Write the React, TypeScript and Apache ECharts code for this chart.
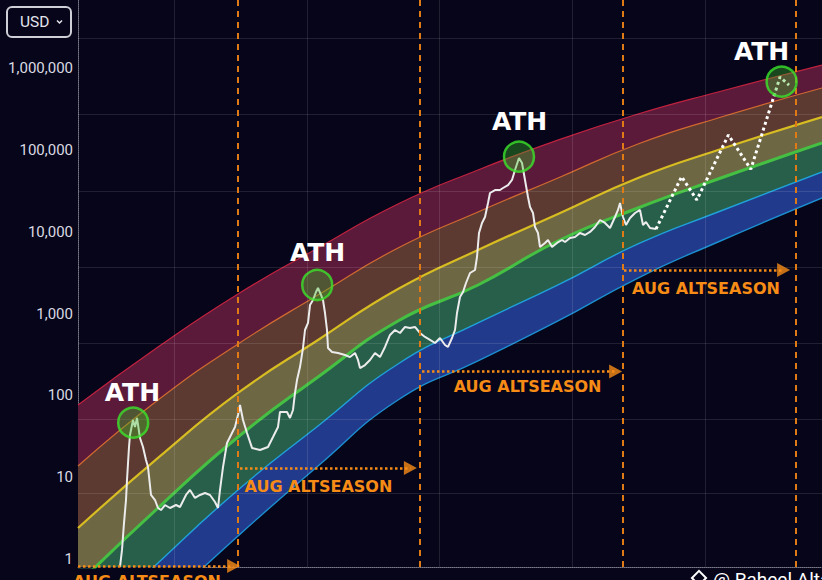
import React, { useEffect, useRef } from 'react';
import * as echarts from 'echarts';

// x is "months since the start of the chart", y is price in USD (log axis)
const bandMonths = [0, 20, 40, 60, 80, 100, 120, 140, 160, 186];
const bandRedTop = [76.3, 391, 1738, 6340, 21880, 57000, 132500, 275500, 512000, 1094000];
const bandOrange = [13.7, 87.9, 425, 1688, 6340, 17470, 45500, 118300, 246000, 573000];
const bandYellow = [2.39, 17.2, 107, 476, 2000, 5990, 16500, 45500, 100000, 253000];
const bandGreen = [0.494, 4.2, 31, 168, 812, 2238, 7720, 19540, 44200, 121900];
const bandCyan = [0.105, 0.894, 6.98, 42.3, 242, 768, 2238, 7100, 17470, 53800];
const bandBlueBottom = [0.0272, 0.238, 1.91, 13.7, 87.9, 264, 812, 2723, 7500, 25900];

const priceHistory: [number, number][] = [
  [10.5, 0.8], [11, 1.29], [11.5, 2.75], [12, 5.26], [12.25, 9.24], [12.75, 23.4], [13, 32.8],
  [13.75, 50], [14.25, 41.1], [14.75, 52.9], [15.5, 30.1], [16.25, 23.4], [17, 16.2], [17.5, 13.3],
  [18.25, 6.06], [19.25, 5.26], [20, 4.2], [20.75, 3.97], [21.75, 4.57], [23, 4.2], [24.5, 4.57],
  [25.5, 4.32], [27, 6.06], [28, 6.98], [29.25, 5.57], [30.5, 6.06], [31.75, 6.41], [33, 6.06],
  [34.25, 4.97], [35, 4.2], [35.5, 6.98], [36.25, 13.3], [37.25, 26.2], [38.25, 32.8], [39.25, 41.1],
  [40, 57.5], [40.5, 76.4], [41.25, 50], [42.25, 34.7], [43.5, 22.8], [45.5, 21.5], [47.5, 23.4],
  [48.75, 31], [50, 41.1], [50.5, 62.7], [52.25, 62.7], [53, 52.9], [53.75, 66.3], [54.25, 107],
  [54.75, 154], [55.5, 222], [56.25, 380], [56.75, 630], [57.5, 768], [58, 1273], [58.75, 1466],
  [59.5, 1837], [60, 2056], [60.75, 1688], [61.25, 1466], [61.75, 1017], [62.25, 630], [62.5, 380],
  [63.5, 339], [65, 330], [66.75, 312], [68, 294], [69.25, 330], [70, 271], [70.5, 216], [71.75, 235],
  [73, 271], [74.25, 330], [75.5, 294], [76.75, 391], [78, 548], [79.25, 630], [80.5, 579],
  [81.75, 686], [83, 667], [84.25, 686], [85.5, 579], [86.75, 518], [88, 476], [89.25, 437],
  [90.5, 503], [91.75, 413], [92.5, 391], [93.5, 503], [94.25, 630], [94.75, 1017], [95.5, 1596],
  [96.25, 1837], [97, 2366], [98, 3135], [99.25, 3412], [99.75, 4920], [100.25, 9660], [101, 12820],
  [101.75, 15170], [102.5, 22500], [103, 29800], [104.25, 32400], [105.5, 32400], [106.25, 34300],
  [107.5, 37300], [108.5, 43000], [109.25, 57000], [110.25, 79800], [111, 69400], [111.75, 43000],
  [112.5, 26600], [113, 20100], [113.75, 16980], [114.25, 11450], [115, 9660], [115.5, 6520],
  [116.75, 7300], [117.5, 7940], [118.5, 6520], [119.75, 7300], [121, 7940], [121.75, 7500],
  [123, 8400], [124.25, 8640], [125.5, 9660], [126.75, 9140], [128, 9950], [129.25, 11450],
  [130.5, 13940], [131.75, 12820], [133, 11130], [134.25, 15170], [135, 18480], [135.5, 22500],
  [136.25, 15170], [137, 12110], [138, 14750], [139.25, 16980], [140.5, 18480], [141.25, 12110],
  [142, 13180], [143, 11130], [144.5, 10800],
];

const projection: [number, number][] = [
  [144.5, 10800], [150.9, 47200], [154.7, 24500], [162.6, 152500], [168.2, 58100], [175.5, 780000], [177.75, 623000],
];

const gridMonths = [24, 57.2, 90.4, 123.6, 156.8];
const gridPriceLevels = [6.4, 51, 437, 3700, 31500, 275000, 2340000];

const altseasonMonths = [39.9, 85.5, 136.1, 179.4];
// [from month, arrow-head month, price level]
const altseasonArrows = [
  [0, 38.9, 0.821],
  [40.5, 83.1, 12.96],
  [86, 134.4, 196],
  [136.5, 176.4, 3412],
];
const altseasonLabels = [[17.25, 0.538], [60.1, 7.59], [112.4, 128.5], [157, 2028]];

const athCircles = [[13.8, 46.4], [59.8, 2238], [110.25, 82800], [175.9, 684000]];
const athLabels = [[13.6, 108], [59.9, 5580], [110.4, 226000], [170.9, 1622000]];

const BG = '#060519';
const ORANGE = '#f68c16';

const App: React.FC = () => {
  const chartRef = useRef<HTMLDivElement>(null);

  useEffect(() => {
    if (!chartRef.current) return;
    const chart = echarts.init(chartRef.current, undefined, { renderer: 'svg' });

    const band = (values: number[], lineColor: string, lineWidth: number, fill: string) => ({
      type: 'line',
      data: bandMonths.map((m, i) => [m, values[i]]),
      smooth: true,
      symbol: 'none',
      silent: true,
      z: 1,
      lineStyle: { color: lineColor, width: lineWidth },
      areaStyle: { color: fill, opacity: 1, origin: 'start' },
    });

    const isPow10 = (v: number) => {
      const l = Math.log10(v);
      return Math.abs(l - Math.round(l)) < 1e-6;
    };

    const option: any = {
      animation: false,
      backgroundColor: BG,
      grid: { left: 78, right: 0, top: 0, bottom: 13, outerBoundsMode: 'none' },
      xAxis: {
        type: 'value',
        min: 0,
        max: 186,
        axisLabel: { show: false },
        axisTick: { show: false },
        splitLine: { show: false },
        axisLine: { show: true, lineStyle: { color: 'rgba(200,200,212,0.6)', type: 'dotted', width: 1 } },
      },
      yAxis: {
        type: 'log',
        logBase: 10,
        min: 0.798,
        max: 6820000,
        axisTick: { show: false },
        splitLine: { show: false },
        axisLine: { show: true, lineStyle: { color: 'rgba(200,200,212,0.6)', type: 'dotted', width: 1 } },
        axisLabel: {
          color: '#dadae2',
          fontSize: 15,
          fontFamily: 'Roboto',
          margin: 5,
          showMinLabel: false,
          showMaxLabel: false,
          formatter: (v: number) => (isPow10(v) ? Math.round(v).toLocaleString('en-US') : ''),
        },
      },
      series: [
        band(bandRedTop, '#c0223f', 1.2, '#5c1a3b'),
        band(bandOrange, '#d26a30', 1.2, '#5c3a31'),
        band(bandYellow, '#d8bd22', 2.2, '#6d6744'),
        band(bandGreen, '#46c043', 3, '#275f4b'),
        band(bandCyan, '#1fa2da', 1.4, '#223a8c'),
        band(bandBlueBottom, '#1c8fd0', 1.4, BG),
        {
          type: 'line',
          data: [],
          silent: true,
          markLine: {
            silent: true,
            z: 2,
            symbol: ['none', 'none'],
            label: { show: false },
            lineStyle: { color: 'rgba(255,255,255,0.11)', width: 1, type: 'solid' },
            data: [
              ...gridMonths.map((m) => ({ xAxis: m })),
              ...gridPriceLevels.map((p) => ({ yAxis: p })),
            ],
          },
        },
        {
          type: 'line',
          data: priceHistory,
          symbol: 'none',
          silent: true,
          z: 3,
          lineStyle: { color: '#ececec', width: 2 },
        },
        {
          type: 'line',
          data: projection,
          symbol: 'none',
          silent: true,
          z: 3,
          lineStyle: { color: '#ffffff', width: 3, type: [3, 3] },
        },
        {
          type: 'line',
          data: [],
          silent: true,
          markLine: {
            silent: true,
            z: 4,
            symbol: ['none', 'none'],
            label: { show: false },
            lineStyle: { color: '#e07a14', width: 2, type: [6, 5] },
            data: altseasonMonths.map((m) => ({ xAxis: m })),
          },
        },
        {
          type: 'line',
          data: [],
          silent: true,
          markLine: {
            silent: true,
            z: 4,
            symbol: ['none', 'none'],
            label: { show: false },
            lineStyle: { color: ORANGE, width: 2.5, type: [2.5, 2.5] },
            data: altseasonArrows.map(([a, b, p]) => [{ coord: [a, p] }, { coord: [b, p] }]),
          },
        },
        {
          // arrow heads
          type: 'scatter',
          data: altseasonArrows.map(([, b, p]) => [b, p]),
          symbol: 'triangle',
          symbolSize: [14, 13],
          symbolRotate: -90,
          silent: true,
          clip: false,
          z: 4,
          itemStyle: { color: ORANGE },
        },
        {
          type: 'scatter',
          data: athCircles,
          symbol: 'circle',
          symbolSize: 30,
          silent: true,
          z: 5,
          itemStyle: { color: 'rgba(60,190,40,0.45)', borderColor: '#3be32a', borderWidth: 2.5 },
        },
        {
          type: 'scatter',
          data: athLabels,
          symbolSize: 1,
          silent: true,
          clip: false,
          z: 6,
          itemStyle: { color: 'transparent' },
          label: {
            show: true,
            position: 'inside',
            formatter: 'ATH',
            color: '#ffffff',
            fontSize: 25,
            fontWeight: 'bold',
            fontFamily: 'DejaVu Sans',
            textBorderWidth: 0,
            opacity: 1,
          },
        },
        {
          type: 'scatter',
          data: altseasonLabels,
          symbolSize: 1,
          silent: true,
          clip: false,
          z: 6,
          itemStyle: { color: 'transparent' },
          label: {
            show: true,
            position: 'inside',
            formatter: 'AUG ALTSEASON',
            color: ORANGE,
            fontSize: 16,
            fontWeight: 'bold',
            fontFamily: 'DejaVu Sans',
            textBorderWidth: 0,
            opacity: 1,
          },
        },
      ],
      graphic: [
        {
          type: 'rect',
          shape: { x: 7, y: 7, width: 64, height: 30, r: 5 },
          style: { fill: 'transparent', stroke: '#cfcfd7', lineWidth: 2 },
          silent: true,
          z: 10,
        },
        {
          type: 'text',
          x: 20,
          y: 22,
          style: { text: 'USD', fill: '#e4e4ec', fontSize: 15.5, fontFamily: 'Roboto', verticalAlign: 'middle' },
          silent: true,
          z: 10,
        },
        {
          type: 'polyline',
          shape: { points: [[57, 20.5], [59.5, 23], [62, 20.5]] },
          style: { stroke: '#e4e4ec', lineWidth: 1.5, fill: 'none' },
          silent: true,
          z: 10,
        },
        {
          type: 'rect',
          x: 699,
          y: 578,
          rotation: Math.PI / 4,
          shape: { x: -5, y: -5, width: 10, height: 10 },
          style: { fill: 'transparent', stroke: '#ffffff', lineWidth: 2 },
          silent: true,
          z: 10,
        },
        {
          type: 'text',
          x: 713,
          y: 570,
          style: { text: '@ Raheel Altaf', fill: '#ffffff', fontSize: 19, fontFamily: 'Roboto', verticalAlign: 'top' },
          silent: true,
          z: 10,
        },
      ],
    };

    chart.setOption(option);

    return () => {
      chart.dispose();
    };
  }, []);

  return (
    <div
      ref={chartRef}
      style={{ position: 'fixed', left: 0, top: 0, width: '822px', height: '580px', background: BG }}
    />
  );
};

export default App;
